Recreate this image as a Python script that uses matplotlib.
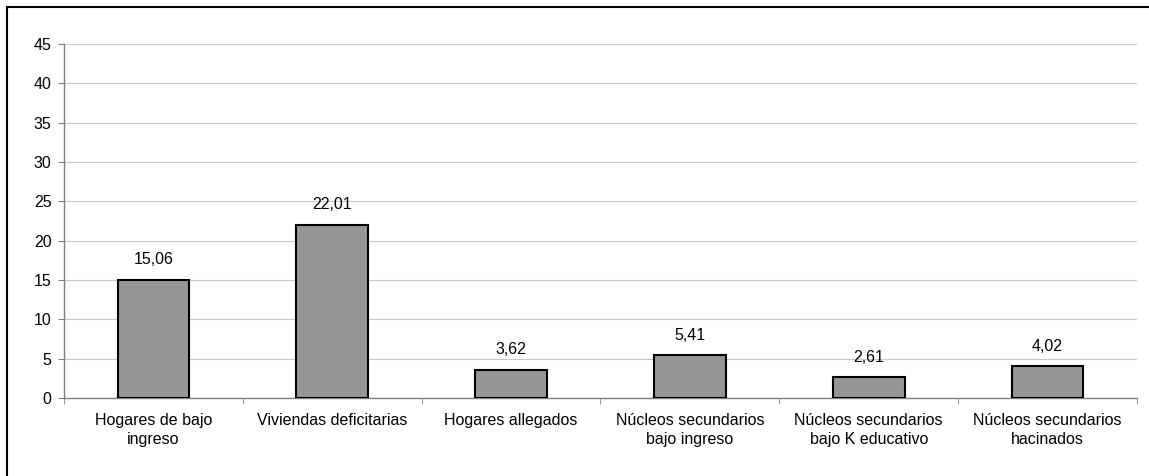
import matplotlib
matplotlib.use('Agg')
import matplotlib.pyplot as plt
from matplotlib.patches import Rectangle
import numpy as np

# categorías y valores (%)
categorias = ['Hogares de bajo\ningreso', 'Viviendas deficitarias', 'Hogares allegados',
              'Núcleos secundarios\nbajo ingreso', 'Núcleos secundarios\nbajo K educativo',
              'Núcleos secundarios\nhacinados']
valores = [15.06, 22.01, 3.62, 5.41, 2.61, 4.02]
etiquetas = ['15,06', '22,01', '3,62', '5,41', '2,61', '4,02']

plt.rcParams['font.family'] = ['Liberation Sans', 'DejaVu Sans']

fig = plt.figure(figsize=(11.49, 4.76), dpi=100)
ax = fig.add_axes([64 / 1149, 1 - 398 / 476, (1137 - 64) / 1149, (398 - 44) / 476])

x = np.arange(len(valores))
ax.bar(x, valores, width=0.40, color='#969696', edgecolor='black', linewidth=1.5, zorder=3)

# valores sobre las barras
for xi, v, t in zip(x, valores, etiquetas):
    ax.annotate(t, (xi, v), xytext=(0, 9), textcoords='offset points',
                ha='center', va='bottom', fontsize=11.5)

ax.set_xlim(-0.5, len(valores) - 0.5)
ax.set_ylim(0, 45)
ax.set_yticks(range(0, 50, 5))
ax.yaxis.grid(True, color='#c8c8c8', linewidth=0.8, zorder=0)

ax.set_xticks(x)
ax.set_xticklabels(categorias, fontsize=11.5, linespacing=1.35)
ax.set_xticks(np.arange(-0.5, len(valores)), minor=True)
ax.tick_params(axis='x', which='major', length=0, pad=11)
ax.tick_params(axis='x', which='minor', length=4, direction='out', color='#808080')
ax.tick_params(axis='y', labelsize=11.5, length=4, pad=5, color='#808080')

for s in ['top', 'right']:
    ax.spines[s].set_visible(False)
for s in ['left', 'bottom']:
    ax.spines[s].set_color('#808080')
    ax.spines[s].set_linewidth(1.0)

# marco del gráfico
fig.patches.append(Rectangle((7 / 1149, -0.1), 1.2, 1.1 - 6.5 / 476, transform=fig.transFigure,
                             fill=False, edgecolor='black', linewidth=1.5))

fig.savefig('out.png', dpi=100)
